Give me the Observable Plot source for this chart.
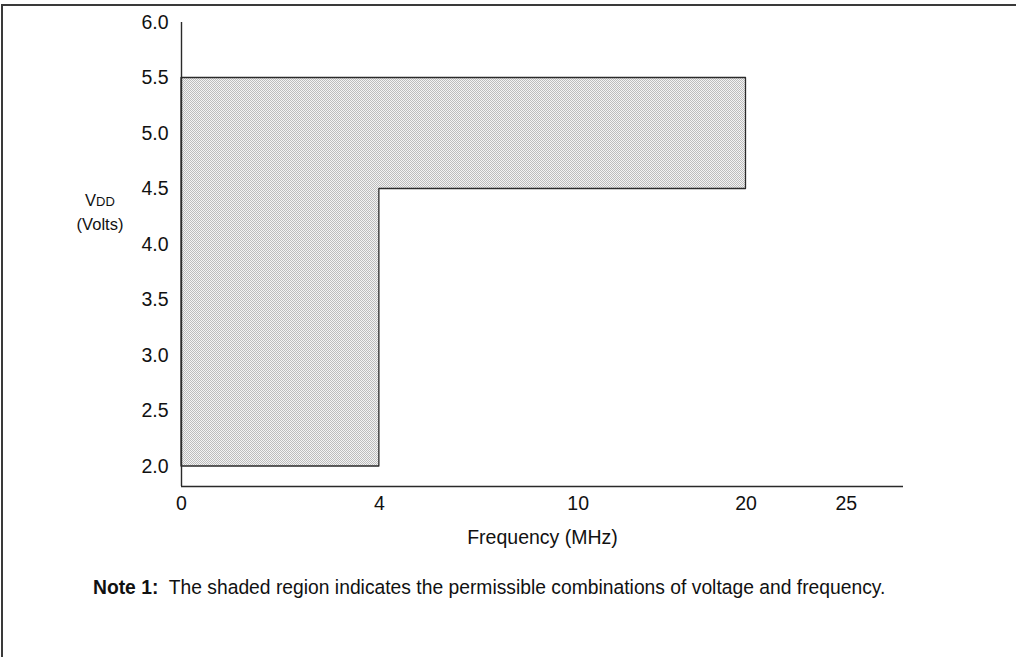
<!DOCTYPE html>
<html><head><meta charset="utf-8">
<script src="https://cdn.jsdelivr.net/npm/d3@7"></script>
<script src="https://cdn.jsdelivr.net/npm/@observablehq/plot@0.6"></script>
<style>
body{margin:0;background:#fff;font-family:"Liberation Sans",Arial,Helvetica,sans-serif;}
#wrap{position:relative;width:1016px;height:657px;overflow:hidden;}
#frame{position:absolute;left:1px;top:4px;width:1100px;height:700px;border-top:2px solid #3a3a3a;border-left:2px solid #3a3a3a;}
#chart{position:absolute;left:0;top:0;}
#ylab{position:absolute;left:58px;width:84px;top:189px;text-align:center;font-size:16.5px;line-height:22px;color:#111;}
#ylab span{font-size:13px;}
#note{position:absolute;left:93px;top:577px;font-size:19.3px;color:#111;white-space:pre;}
</style></head>
<body>
<div id="wrap">
  <div id="frame"></div>
  <div id="chart"></div>
  <div id="ylab">V<span>DD</span><br>(Volts)</div>
  <div id="note"><b>Note 1:</b>  The shaded region indicates the permissible combinations of voltage and frequency.</div>
</div>
<script>
// Tick values
const freqTicks = [0, 4, 10, 20, 25];
const voltTicks = [2.0, 2.5, 3.0, 3.5, 4.0, 4.5, 5.0, 5.5, 6.0];
// Permissible operating region (frequency in MHz, VDD bounds in volts)
const regionFreq = [0, 4, 20];
const regionVmin = [2.0, 4.5, 4.5];
const regionVmax = [5.5, 5.5, 5.5];
// Axis extents
const freqMax = 27.85;
const voltDomain = [1.82, 6.0];
// Non-uniform frequency axis: breakpoints and their spacing (in units of the 0–4 MHz segment)
const freqBreaks = [0, 4, 10, 20, 25];
const breakUnits = [0, 1, 2.005, 2.853, 3.36];

const region = regionFreq.map((f, i) => ({f, lo: regionVmin[i], hi: regionVmax[i]}));

const warp = d3.scaleLinear().domain(freqBreaks).range(breakUnits);

const W = 1016, H = 560;

const chart = Plot.plot({
  width: W,
  height: H,
  marginLeft: 181,
  marginRight: 113,
  marginTop: 22,
  marginBottom: 74,
  style: {fontFamily: '"Liberation Sans", Arial, Helvetica, sans-serif', fontSize: "19px", color: "#111", background: "transparent"},
  x: {transform: (v) => warp(v), domain: [0, warp(freqMax)]},
  y: {domain: voltDomain},
  marks: [
    Plot.areaY(region, {x: "f", y1: "lo", y2: "hi", curve: "step-after", fill: "url(#stipple)", stroke: "#2a2a2a", strokeWidth: 1.3}),
    Plot.ruleX([0], {stroke: "#2a2a2a", strokeWidth: 1.4}),
    Plot.ruleY([voltDomain[0]], {stroke: "#2a2a2a", strokeWidth: 1.4}),
    Plot.axisX({ticks: freqTicks.map(warp), tickSize: 0, tickPadding: 10, fontSize: 19.5, label: null,
                tickFormat: (u) => String(Math.round(warp.invert(u)))}),
    Plot.axisX({ticks: [], tickSize: 0, fontSize: 19.5, label: "Frequency (MHz)", labelAnchor: "center", labelArrow: "none", labelOffset: 57}),
    Plot.axisY({ticks: voltTicks, tickSize: 0, tickPadding: 13, fontSize: 19.5, tickFormat: d3.format(".1f"), label: null})
  ]
});

// stippled fill pattern like the printed figure
const ns = "http://www.w3.org/2000/svg";
const defs = document.createElementNS(ns, "defs");
const pat = document.createElementNS(ns, "pattern");
pat.setAttribute("id", "stipple");
pat.setAttribute("patternUnits", "userSpaceOnUse");
pat.setAttribute("width", "2");
pat.setAttribute("height", "2");
const mk = (x, y, w, h, c) => { const r = document.createElementNS(ns, "rect"); r.setAttribute("x", x); r.setAttribute("y", y); r.setAttribute("width", w); r.setAttribute("height", h); r.setAttribute("fill", c); pat.appendChild(r); };
mk(0, 0, 2, 2, "#f3f3f3");
mk(0, 0, 1, 1, "#bcbcbc");
mk(1, 1, 1, 1, "#bcbcbc");
defs.appendChild(pat);
const svg = chart.tagName.toLowerCase() === "svg" ? chart : chart.querySelector("svg");
svg.insertBefore(defs, svg.firstChild);
document.getElementById("chart").appendChild(chart);
</script>
</body></html>
